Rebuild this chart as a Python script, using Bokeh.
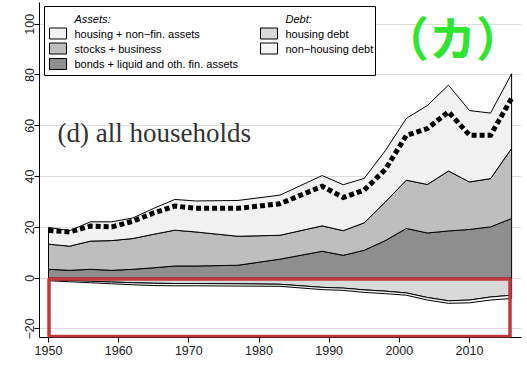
import numpy as np
from bokeh.plotting import figure
from bokeh.models import Range1d, FixedTicker, BoxAnnotation, Label
from bokeh.embed import file_html
from bokeh.resources import INLINE

# ---------------- data (share of income) ----------------
years = [1950, 1953, 1956, 1959, 1962, 1965, 1968, 1971, 1977, 1983,
         1989, 1992, 1995, 1998, 2001, 2004, 2007, 2010, 2013, 2016]
bonds_liquid = [3.5, 3.1, 3.5, 3.1, 3.5, 4.1, 4.8, 4.8, 5.1, 7.5,
                10.6, 9.0, 11.0, 14.8, 19.6, 17.8, 18.6, 19.2, 20.2, 23.5]
stocks_business = [9.9, 9.5, 11.1, 11.7, 12.1, 13.2, 14.1, 13.4, 11.4, 9.4,
                   10.0, 9.7, 10.8, 15.2, 19.0, 19.1, 23.6, 18.7, 19.0, 27.6]
housing_nonfin = [6.6, 6.1, 7.6, 7.4, 8.1, 10.2, 12.1, 12.2, 14.1, 15.8,
                  19.8, 18.1, 17.5, 20.2, 24.3, 31.1, 33.8, 28.1, 25.8, 29.4]
housing_debt = [0.6, 0.9, 1.2, 1.5, 1.8, 2.0, 2.1, 2.1, 2.2, 2.4,
                3.6, 3.9, 4.6, 5.1, 5.8, 7.6, 8.9, 8.6, 7.4, 6.7]
nonhousing_debt = [0.4, 0.5, 0.6, 0.7, 0.8, 0.9, 0.9, 0.9, 0.9, 0.8,
                   0.9, 0.9, 1.0, 1.0, 0.9, 1.0, 1.0, 1.1, 1.2, 1.3]
net_wealth = [18.8, 18.2, 20.5, 20.2, 22.4, 25.7, 28.4, 27.5, 27.5, 29.3,
              36.2, 31.8, 34.7, 42.8, 56.2, 58.9, 65.5, 56.3, 56.3, 70.8]

y_ticks = [-20, 0, 20, 40, 60, 80, 100]
x_ticks = [1950, 1960, 1970, 1980, 1990, 2000, 2010]

asset_labels = ["housing + non\u2212fin. assets", "stocks + business",
                "bonds + liquid and oth. fin. assets"]
debt_labels = ["housing debt", "non\u2212housing debt"]

# ---------------- layout ----------------
W, H = 527, 377
FL, FR, FT, FB = 39, 521, 2, 337           # frame edges in pixels
X0, X1 = 1948.717, 2017.41
Y0, Y1 = -23.35, 108.54


def px_x(px):
    return X0 + (px - FL) * (X1 - X0) / (FR - FL)


def px_y(py):
    return Y1 - (py - FT) * (Y1 - Y0) / (FB - FT)


p = figure(width=W, height=H, output_backend="svg", toolbar_location=None,
           x_range=Range1d(X0, X1), y_range=Range1d(Y0, Y1),
           min_border_left=FL, min_border_right=W - FR,
           min_border_top=FT, min_border_bottom=H - FB)
p.outline_line_color = None
p.background_fill_color = "white"
p.border_fill_color = "white"

p.xgrid.grid_line_color = None
p.ygrid.grid_line_color = "#dddddd"
p.ygrid.grid_line_width = 1
p.ygrid.ticker = FixedTicker(ticks=y_ticks)

for ax in (p.xaxis[0], p.yaxis[0]):
    ax.axis_line_color = "black"
    ax.major_tick_line_color = "black"
    ax.minor_tick_line_color = None
    ax.major_tick_in = 0
    ax.major_tick_out = 5
    ax.major_label_text_font = "Liberation Sans"
    ax.major_label_text_font_size = "12.5px"
    ax.major_label_text_color = "#222222"
    ax.major_label_standoff = 3

p.xaxis.ticker = FixedTicker(ticks=x_ticks)
p.yaxis.ticker = FixedTicker(ticks=y_ticks)
p.yaxis.major_label_orientation = "vertical"
p.yaxis.major_label_standoff = 0

# ---------------- stacked areas ----------------
yrs = np.array(years, dtype=float)
b = np.array(bonds_liquid)
s = np.array(stocks_business)
h = np.array(housing_nonfin)
hd = np.array(housing_debt)
nd = np.array(nonhousing_debt)

layers = [
    (np.zeros_like(b), b, "#8e8e8e"),
    (b, b + s, "#bebebe"),
    (b + s, b + s + h, "#f2f2f2"),
    (np.zeros_like(hd), -hd, "#d9d9d9"),
    (-hd, -(hd + nd), "#f4f4f4"),
]
xs_list, ys_list, cols = [], [], []
for lo, hi, c in layers:
    xs_list.append(list(yrs) + list(yrs[::-1]))
    ys_list.append(list(hi) + list(lo[::-1]))
    cols.append(c)
p.patches(xs_list, ys_list, fill_color=cols, line_color="black", line_width=1)

p.line(years, net_wealth, line_color="black", line_width=5,
       line_dash="5 3", line_cap="butt", line_join="miter")

# ---------------- highlight box ----------------
box_left, box_right, box_top, box_bottom = px_x(48.5), px_x(509.5), px_y(278.5), px_y(336)
p.add_layout(BoxAnnotation(left=box_left, right=box_right, top=box_top, bottom=box_bottom,
                           fill_color=None, line_color="#c0393f", line_alpha=1,
                           line_width=3.5))

# ---------------- legend ----------------
p.add_layout(BoxAnnotation(left=px_x(44), right=px_x(375), top=px_y(6), bottom=px_y(75),
                           fill_color="white", fill_alpha=1, line_color="black",
                           line_alpha=1, line_width=1))


def add_text(txt, x, y, style="normal", size="11px", font="Liberation Sans",
             color="black", align="left", baseline="middle"):
    p.add_layout(Label(x=x, y=y, text=txt, text_font=font, text_font_size=size,
                       text_font_style=style, text_color=color,
                       text_align=align, text_baseline=baseline))


add_text("Assets:", px_x(74), px_y(18), style="italic")
add_text("Debt:", px_x(285), px_y(18), style="italic")
row_y = [33, 48, 63.5]
asset_cols = ["#f2f2f2", "#bebebe", "#8e8e8e"]
for lab, c, ry in zip(asset_labels, asset_cols, row_y):
    p.add_layout(BoxAnnotation(left=px_x(49), right=px_x(66), top=px_y(ry - 5.5),
                               bottom=px_y(ry + 5.5), fill_color=c, fill_alpha=1,
                               line_color="black", line_alpha=1, line_width=1))
    add_text(lab, px_x(74), px_y(ry))
debt_cols = ["#d9d9d9", "#f4f4f4"]
for lab, c, ry in zip(debt_labels, debt_cols, row_y[:2]):
    p.add_layout(BoxAnnotation(left=px_x(260), right=px_x(277), top=px_y(ry - 5.5),
                               bottom=px_y(ry + 5.5), fill_color=c, fill_alpha=1,
                               line_color="black", line_alpha=1, line_width=1))
    add_text(lab, px_x(285), px_y(ry))

# ---------------- titles ----------------
add_text("(d) all households", px_x(57), px_y(132), size="27px",
         font="Liberation Serif", color="#333333", baseline="alphabetic")
add_text("\uff08\u30ab\uff09", px_x(452), px_y(35), size="47px",
         font="Noto Sans CJK JP", color="#2ee62e", align="center", style="bold")

open("out.html", "w").write(file_html(p, INLINE))
